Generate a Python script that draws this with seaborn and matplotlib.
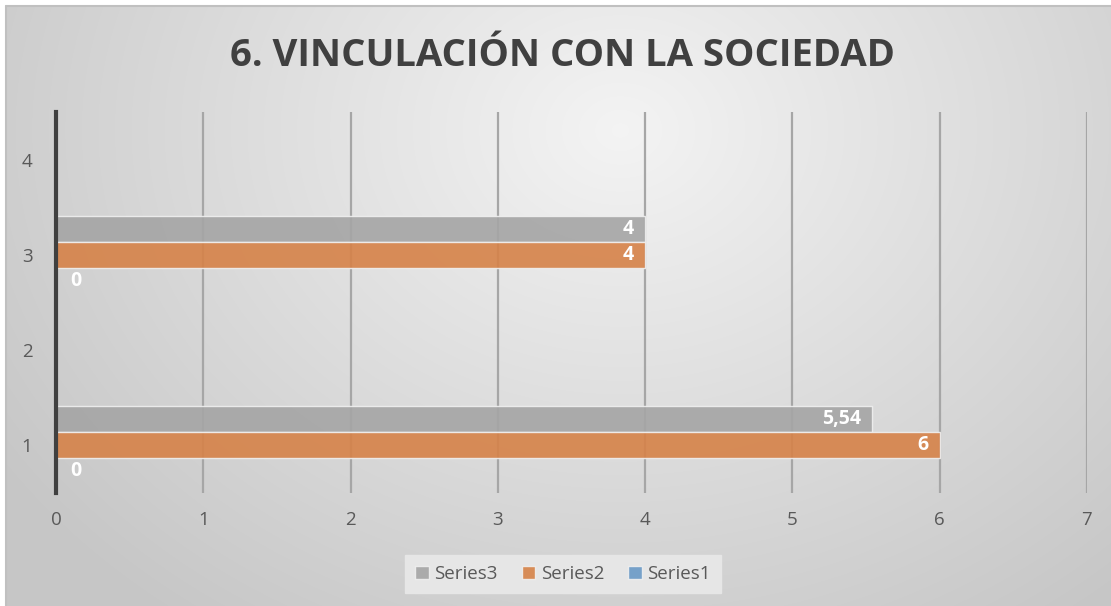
import numpy as np
import pandas as pd
import seaborn as sns
import matplotlib.pyplot as plt

categories = ["1", "3"]
series1 = [0, 0]
series2 = [6, 4]
series3 = [5.54, 4]
axis_order = ["4", "3", "2", "1"]
series_names = ["Series3", "Series2", "Series1"]
palette = {"Series3": "#a5a5a5", "Series2": "#ed7d31", "Series1": "#5b9bd5"}

df = pd.DataFrame({
    "cat": categories * 3,
    "value": series3 + series2 + series1,
    "series": ["Series3"] * 2 + ["Series2"] * 2 + ["Series1"] * 2,
})

sns.set_theme(style="white")
plt.rcParams["font.family"] = ["Open Sans", "DejaVu Sans"]

fig = plt.figure(figsize=(11.11, 6.06), dpi=100)

# radial grey background like the office chart style
bg = fig.add_axes([0, 0, 1, 1], zorder=-10)
yy, xx = np.mgrid[0:606, 0:1111]
r = np.sqrt(((xx - 620) / 760.0) ** 2 + ((yy - 130) / 620.0) ** 2)
shade = np.clip(0.955 - 0.18 * r, 0.78, 0.955)
img = np.dstack([shade, shade, shade])
img[:6, :, :] = 1.0
img[:, :6, :] = 1.0
bg.imshow(img, aspect="auto", extent=[0, 1, 0, 1], interpolation="bilinear")
bg.plot([6 / 1111, 1], [1 - 6 / 606, 1 - 6 / 606], color="#c0c0c0", lw=1.5)
bg.plot([6 / 1111, 6 / 1111], [0, 1 - 6 / 606], color="#c0c0c0", lw=1.5)
bg.set_xlim(0, 1)
bg.set_ylim(0, 1)
bg.axis("off")

ax = fig.add_axes([56 / 1111, 1 - 493 / 606, (1087 - 56) / 1111, (493 - 112) / 606])
ax.set_facecolor("none")

sns.barplot(data=df, x="value", y="cat", hue="series", order=axis_order,
            hue_order=series_names, palette=palette, orient="h", width=0.82,
            alpha=0.9, edgecolor="#f0f0f0", linewidth=1, ax=ax, zorder=3)

for cont in ax.containers:
    for bar in cont:
        w = bar.get_width()
        if np.isnan(w):
            continue
        yc = bar.get_y() + bar.get_height() / 2
        if w == 0:
            txt, xpos, ha, off = "0", 0, "left", 10
        else:
            txt = str(int(w)) if float(w).is_integer() else f"{w:.2f}".replace(".", ",")
            xpos, ha, off = w, "right", -8
        ax.annotate(txt, (xpos, yc), xytext=(off, 0), textcoords="offset points",
                    ha=ha, va="center", color="white", fontsize=14,
                    fontweight="bold", zorder=5)

ax.set_xlim(0, 7)
ax.set_xticks(range(8))
ax.grid(axis="x", color="#a6a6a6", lw=1.6, zorder=1)
ax.grid(axis="y", visible=False)
for s in ["top", "right", "bottom"]:
    ax.spines[s].set_visible(False)
ax.spines["left"].set_color("#404040")
ax.spines["left"].set_linewidth(3)
ax.spines["left"].set_zorder(4)
ax.tick_params(axis="both", length=0, colors="#595959", labelsize=13.5)
ax.tick_params(axis="x", pad=13)
ax.tick_params(axis="y", pad=17)
ax.set_xlabel("")
ax.set_ylabel("")

handles, labels = ax.get_legend_handles_labels()
leg = fig.legend(handles, labels, loc="center", bbox_to_anchor=(563 / 1111, 1 - 574 / 606),
                 ncol=3, frameon=True, fontsize=13.5, handlelength=0.7, handleheight=0.7,
                 handletextpad=0.3, columnspacing=1.3, borderpad=0.55, fancybox=False)
ax.get_legend().remove()
leg.get_frame().set_facecolor("#e6e6e6")
leg.get_frame().set_edgecolor("#e6e6e6")
leg.get_frame().set_alpha(1)
for t in leg.get_texts():
    t.set_color("#595959")

fig.text(563 / 1111, 1 - 56 / 606, "6. VINCULACIÓN CON LA SOCIEDAD", ha="center", va="center",
         fontsize=27.5, fontweight="bold", color="#404040")

fig.savefig("out.png", dpi=100)
